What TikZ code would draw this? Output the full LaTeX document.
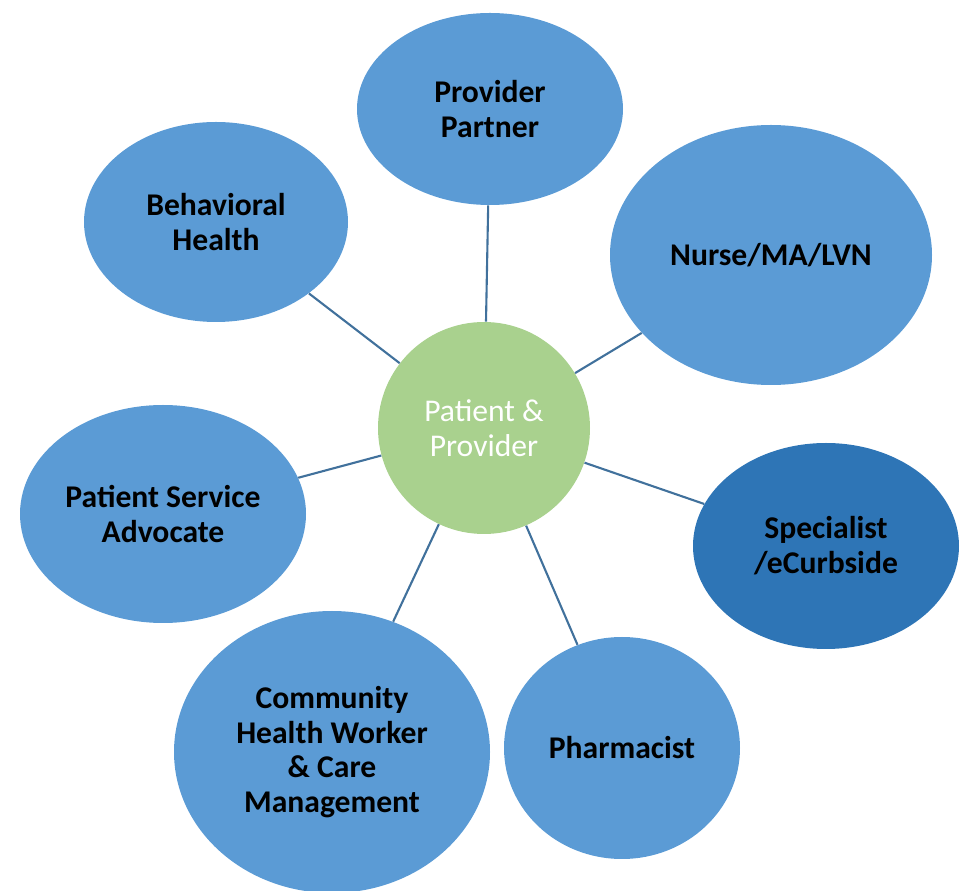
\documentclass[tikz,border=0pt]{standalone}
\usepackage{fontspec}
\setmainfont{Carlito}
\usetikzlibrary{shapes.geometric}

\definecolor{roleblue}{HTML}{5B9BD5}
\definecolor{darkblue}{HTML}{2E75B6}
\definecolor{centregreen}{HTML}{A9D18E}
\definecolor{linkblue}{HTML}{41719C}

\tikzset{
	role/.style={ellipse, fill=roleblue, inner sep=0pt},
	roletext/.style={align=center, inner sep=0pt,
		font=\fontsize{18}{19.8}\selectfont\bfseries},
	hub/.style={circle, fill=centregreen, inner sep=0pt, align=center, text=white,
		minimum size=212*0.02cm, font=\fontsize{18}{19.8}\selectfont},
	link/.style={linkblue, line width=1.2pt}
}

\begin{document}
\begin{tikzpicture}[x=0.02cm, y=-0.02cm]

\useasboundingbox (0,0) rectangle (961,891);

\node [hub]  (pp)  at (484,428) {Patient \&\\Provider};

\node [role, minimum width=266*0.02cm, minimum height=192*0.02cm,
	label={[roletext]center:Provider\\Partner}] 	(partner) at (490,109) {};
\node [role, minimum width=264*0.02cm, minimum height=200*0.02cm,
	label={[roletext]center:Behavioral\\Health}] 	(behav) at (216,222) {};
\node [role, minimum width=322*0.02cm, minimum height=260*0.02cm,
	label={[roletext]center:Nurse/MA/LVN}] 	(nurse) at (771,255) {};
\node [role, fill=darkblue, minimum width=266*0.02cm, minimum height=206*0.02cm,
	label={[roletext]center:Specialist\\/eCurbside}] 	(spec) at (826,546) {};
\node [role, minimum width=236*0.02cm, minimum height=222*0.02cm,
	label={[roletext]center:Pharmacist}] 	(pharm) at (622,748) {};
\node [role, minimum width=316*0.02cm, minimum height=282*0.02cm,
	label={[roletext]center:Community\\Health Worker\\\& Care\\Management}] 	(chw) at (332,752) {};
\node [role, minimum width=286*0.02cm, minimum height=218*0.02cm,
	label={[roletext]center:Patient Service\\Advocate}] 	(psa) at (163,514) {};

\begin{scope}[link]
\draw (pp) -- (partner);
\draw (pp) -- (behav);
\draw (pp) -- (nurse);
\draw (pp) -- (spec);
\draw (pp) -- (pharm);
\draw (pp) -- (chw);
\draw (pp) -- (psa);
\end{scope}

\end{tikzpicture}
\end{document}
